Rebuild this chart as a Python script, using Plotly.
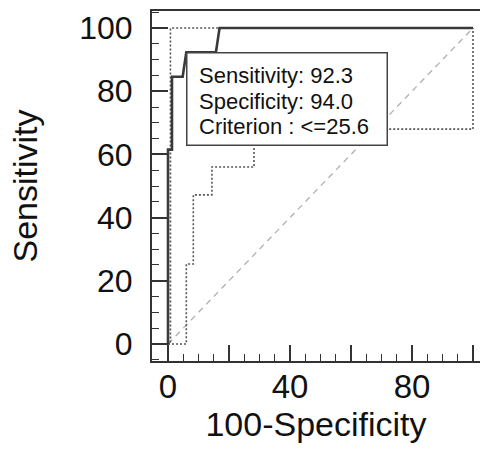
import plotly.graph_objects as go

# ROC curve (100-Specificity, Sensitivity)
roc_x = [0, 0, 1.3, 1.3, 4.8, 6.0, 15.7, 16.9, 100]
roc_y = [0, 61.5, 61.5, 84.6, 84.6, 92.3, 92.3, 100, 100]

# Upper confidence bound
up_x = [0, 0.8, 0.8, 100]
up_y = [0, 0, 100, 100]

# Lower confidence bound
lo_x = [0, 6.0, 6.0, 8.3, 8.3, 14.4, 14.4, 28.2, 28.2, 45, 45, 100, 100]
lo_y = [0, 0, 25.3, 25.3, 47.2, 47.2, 56, 56, 65, 65, 68, 68, 100]

# Reference diagonal
diag_x = [0, 100]
diag_y = [0, 100]

x_ticks = [0, 20, 40, 60, 80, 100]
x_ticktext = ["0", "", "40", "", "80", ""]
y_ticks = [0, 20, 40, 60, 80, 100]

# Optimal criterion point and its label
crit_x, crit_y = 6.0, 92.3
label_lines = ["Sensitivity: 92.3", "Specificity: 94.0", "Criterion : <=25.6"]

FONT = "Liberation Sans, Arial, sans-serif"
INK = "#111111"
AX = "#333333"

fig = go.Figure()
fig.add_trace(go.Scatter(x=diag_x, y=diag_y, mode="lines",
                         line=dict(color="#b0b0b0", width=1.3, dash="6px,5px"),
                         hoverinfo="skip"))
fig.add_trace(go.Scatter(x=up_x, y=up_y, mode="lines",
                         line=dict(color="#555555", width=1.6, dash="2px,2px"),
                         hoverinfo="skip"))
fig.add_trace(go.Scatter(x=lo_x, y=lo_y, mode="lines",
                         line=dict(color="#555555", width=1.6, dash="2px,2px"),
                         hoverinfo="skip"))
fig.add_trace(go.Scatter(x=roc_x, y=roc_y, mode="lines",
                         line=dict(color="#3a3a3a", width=2.6),
                         hoverinfo="skip"))

# label box anchored at the criterion point
fig.add_annotation(x=crit_x, y=crit_y, xref="x", yref="y",
                   xanchor="left", yanchor="top", showarrow=False,
                   text=" ", width=199, height=91, borderpad=0,
                   bgcolor="white", bordercolor="#444444", borderwidth=1.5)
for i, line in enumerate(label_lines):
    fig.add_annotation(x=crit_x, y=crit_y, xref="x", yref="y",
                       xanchor="left", yanchor="middle", showarrow=False,
                       text=line, xshift=11, yshift=-(23.5 + 25.5 * i),
                       font=dict(family=FONT, size=22, color=INK))

fig.update_layout(
    width=480, height=460,
    margin=dict(l=152, r=0, t=11, b=99),
    plot_bgcolor="white", paper_bgcolor="white",
    showlegend=False,
    font=dict(family=FONT, color=INK),
)
fig.update_xaxes(range=[-5.25, 102.3], showgrid=False, zeroline=False, automargin=False,
                 showline=True, linecolor=AX, linewidth=2, mirror=True,
                 tickvals=x_ticks, ticktext=x_ticktext, ticklabelstandoff=-5,
                 ticks="inside", ticklen=16, tickwidth=1.5, tickcolor=AX,
                 minor=dict(dtick=5, ticks="inside", ticklen=7, tickwidth=1.3, tickcolor=AX),
                 tickfont=dict(size=33, family=FONT, color=INK),
                 title=dict(text="100-Specificity", font=dict(size=34, family=FONT, color=INK), standoff=6))
fig.update_yaxes(range=[-5.4, 105.4], showgrid=False, zeroline=False, automargin=False,
                 showline=True, linecolor=AX, linewidth=2, mirror=False,
                 tickvals=y_ticks, ticklabelstandoff=11,
                 ticks="inside", ticklen=16, tickwidth=1.5, tickcolor=AX,
                 minor=dict(dtick=5, ticks="inside", ticklen=7, tickwidth=1.3, tickcolor=AX),
                 tickfont=dict(size=32, family=FONT, color=INK),
                 title=dict(text="Sensitivity", font=dict(size=34, family=FONT, color=INK), standoff=31))

fig.write_html("out.html", config={"displayModeBar": False},
               post_script="document.body.style.margin='0';")
